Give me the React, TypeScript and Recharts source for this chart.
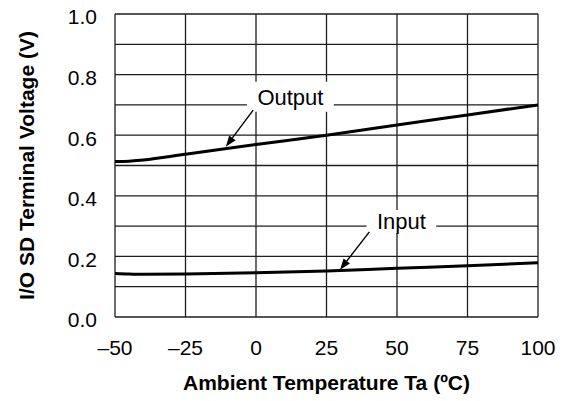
import React from 'react';
import { LineChart, Line, XAxis, YAxis, CartesianGrid, ReferenceArea, ReferenceLine } from 'recharts';

// temperatures (ºC)
const temps = [-50, -45, -40, -25, 0, 25, 50, 75, 100];
// I/O SD terminal voltage (V)
const outputV = [0.513, 0.514, 0.518, 0.537, 0.569, 0.6, 0.634, 0.667, 0.7];
const inputV = [0.144, 0.142, 0.141, 0.142, 0.146, 0.152, 0.161, 0.169, 0.179];

const xTicks = [-50, -25, 0, 25, 50, 75, 100];
const yTicks = [0, 0.1, 0.2, 0.3, 0.4, 0.5, 0.6, 0.7, 0.8, 0.9, 1.0];

// callouts: label box [x1, x2, y1, y2] and arrow [from, to] in data units
const outputBox = [-3.2, 27.6, 0.677, 0.776];
const outputArrow = [{ x: -1.0, y: 0.683 }, { x: -10.7, y: 0.562 }];
const inputBox = [39.2, 63.9, 0.277, 0.353];
const inputArrow = [{ x: 40.2, y: 0.281 }, { x: 29.8, y: 0.156 }];

const data = temps.map((t, i) => ({ temp: t, output: outputV[i], input: inputV[i] }));

const FONT = '"Liberation Sans", Arial, Helvetica, sans-serif';

const arrowShape = (props: any) => {
  const { x1, y1, x2, y2 } = props;
  const a = Math.atan2(y2 - y1, x2 - x1);
  const len = 11;
  const half = 4;
  const bx = x2 - len * Math.cos(a);
  const by = y2 - len * Math.sin(a);
  const px = -Math.sin(a) * half;
  const py = Math.cos(a) * half;
  return (
    <g>
      <line x1={x1} y1={y1} x2={bx} y2={by} stroke="#000" strokeWidth={1.4} />
      <polygon points={`${x2},${y2} ${bx + px},${by + py} ${bx - px},${by - py}`} fill="#000" />
    </g>
  );
};

const YTitle = (props: any) => {
  const vb = props.viewBox || { x: 0, y: 14, width: 115, height: 303 };
  const cx = vb.x + 26;
  const cy = vb.y + vb.height / 2;
  return (
    <text
      x={cx}
      y={cy}
      transform={`rotate(-90, ${cx}, ${cy})`}
      textAnchor="middle"
      dominantBaseline="central"
      fontFamily={FONT}
      fontSize={21}
      fontWeight={700}
      fill="#000"
    >
      I/O SD Terminal Voltage (V)
    </text>
  );
};

export default function App() {
  return (
    <div style={{ position: 'absolute', left: 0, top: 0, background: '#fff', fontFamily: FONT }}>
      <LineChart width={566} height={401} data={data} margin={{ top: 14, right: 28, left: 0, bottom: 0 }}>
        <CartesianGrid stroke="#1e1e1e" strokeWidth={1.3} />
        <XAxis
          dataKey="temp"
          type="number"
          domain={[-50, 100]}
          ticks={xTicks}
          axisLine={false}
          tickLine={false}
          tickSize={6}
          tickMargin={17}
          height={84}
          tick={{ fill: '#000', fontSize: 21, fontFamily: FONT }}
          tickFormatter={(v) => String(v).replace('-', '\u2013')}
          label={{
            value: 'Ambient Temperature Ta (ºC)',
            position: 'insideBottom',
            offset: 11,
            fill: '#000',
            fontSize: 21,
            fontWeight: 700,
            fontFamily: FONT,
          }}
        />
        <YAxis
          type="number"
          domain={[0, 1]}
          ticks={yTicks}
          interval={0}
          axisLine={false}
          tickLine={false}
          tickSize={6}
          tickMargin={12}
          width={115}
          tick={{ fill: '#000', fontSize: 21, fontFamily: FONT, dy: 3 }}
          tickFormatter={(v) => (Math.round(v * 10) % 2 === 0 ? v.toFixed(1) : '')}
          label={<YTitle />}
        />
        <ReferenceArea
          x1={outputBox[0]}
          x2={outputBox[1]}
          y1={outputBox[2]}
          y2={outputBox[3]}
          fill="#fff"
          fillOpacity={1}
          stroke="none"
          label={{ value: 'Output', position: 'center', fill: '#000', fontSize: 22, fontFamily: FONT }}
        />
        <ReferenceArea
          x1={inputBox[0]}
          x2={inputBox[1]}
          y1={inputBox[2]}
          y2={inputBox[3]}
          fill="#fff"
          fillOpacity={1}
          stroke="none"
          label={{ value: 'Input', position: 'center', fill: '#000', fontSize: 22, fontFamily: FONT }}
        />
        <ReferenceLine segment={outputArrow} shape={arrowShape} />
        <ReferenceLine segment={inputArrow} shape={arrowShape} />
        <Line type="monotone" dataKey="output" stroke="#000" strokeWidth={3} dot={false} isAnimationActive={false} />
        <Line type="monotone" dataKey="input" stroke="#000" strokeWidth={3} dot={false} isAnimationActive={false} />
      </LineChart>
    </div>
  );
}
